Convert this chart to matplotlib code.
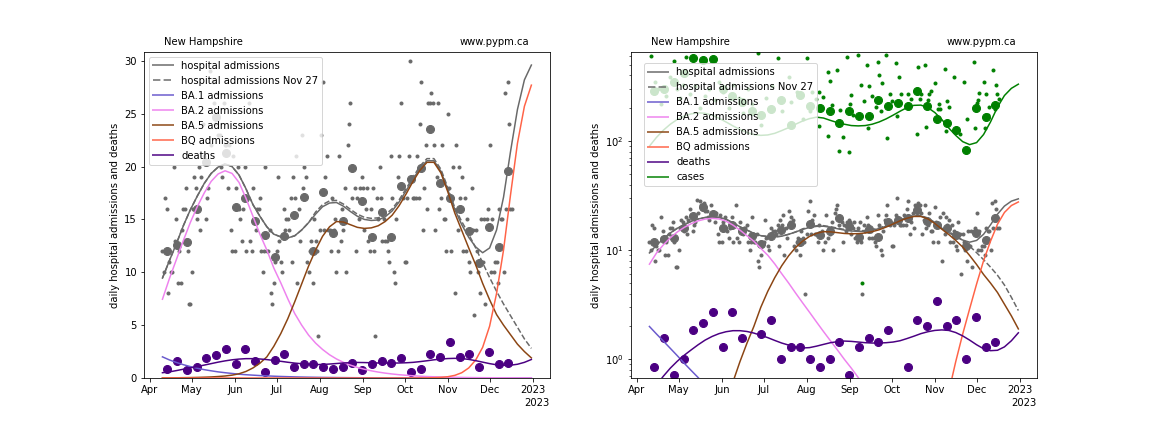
import numpy as np
import matplotlib
matplotlib.use('Agg')
import matplotlib.pyplot as plt
import matplotlib.dates as mdates
from matplotlib.lines import Line2D

region = 'New Hampshire'
site = 'www.pypm.ca'
start_date = np.datetime64('2022-04-10T00:00')

# daily hospital admissions, starting Apr 10 2022
hosp_daily = [
    12, 10, 17, 16, 8, 11, 10,
    10, 20, 13, 15, 9, 12, 9,
    14, 16, 16, 18, 12, 7, 7,
    10, 16, 19, 18, 15, 20, 14,
    19, 24, 21, 15, 17, 18, 29,
    22, 28, 26, 24, 27, 23, 23,
    20, 19, 26, 22, 22, 18, 22,
    14, 12, 21, 12, 18, 20, 16,
    15, 13, 16, 20, 12, 17, 26,
    13, 12, 18, 15, 14, 16, 16,
    17, 12, 10, 12, 20, 12, 12,
    14, 8, 7, 9, 11, 12, 19,
    13, 11, 10, 16, 14, 15, 15,
    14, 17, 11, 19, 17, 21, 9,
    16, 13, 23, 18, 20, 19, 11,
    10, 12, 13, 9, 15, 13, 12,
    4, 14, 23, 28, 14, 19, 21,
    14, 14, 12, 17, 14, 15, 10,
    12, 21, 13, 16, 14, 18, 10,
    22, 24, 26, 17, 20, 18, 12,
    17, 15, 18, 19, 18, 14, 16,
    18, 13, 12, 16, 18, 12, 4,
    17, 15, 20, 17, 13, 15, 13,
    13, 12, 11, 21, 17, 10, 9,
    15, 19, 21, 26, 18, 17, 11,
    11, 17, 21, 30, 19, 17, 17,
    17, 21, 17, 24, 28, 14, 18,
    22, 16, 26, 26, 27, 26, 22,
    14, 19, 26, 16, 17, 22, 15,
    15, 12, 25, 18, 12, 17, 20,
    8, 22, 14, 20, 17, 19, 12,
    17, 12, 15, 11, 10, 18, 14,
    6, 14, 12, 10, 8, 15, 11,
    15, 7, 15, 16, 22, 10, 15,
    10, 11, 11, 9, 16, 15, 15,
    10, 27, 16, 28, 24, 16, 16,
]

# weekly averages (plotted mid-week, first week centred Apr 13.5)
hosp_weekly = [12.0, 12.57, 12.86, 16.0, 20.43, 24.71, 21.29, 16.14, 17.0, 14.86,
               13.57, 11.43, 13.43, 15.43, 17.14, 12.0, 17.57, 13.71, 14.86, 19.86,
               16.71, 13.29, 15.71, 13.29, 18.14, 18.86, 19.86, 23.57, 18.43, 17.0,
               16.0, 13.86, 10.86, 14.29, 12.43, 19.57]
deaths_weekly = [0.857, 1.571, 0.714, 1.0, 1.857, 2.143, 2.714, 1.286, 2.714, 1.571,
                 0.571, 1.714, 2.286, 1.0, 1.286, 1.286, 1.0, 0.857, 1.0, 1.429,
                 0.714, 1.286, 1.571, 1.429, 1.857, 0.571, 0.857, 2.286, 2.0, 3.429,
                 2.0, 2.286, 1.0, 2.429, 1.286, 1.429]
cases_weekly = [288, 300, 350, 420, 573, 550, 565, 300, 260, 230,
                190, 175, 199, 238, 140, 264, 211, 201, 191, 148,
                191, 171, 171, 239, 208, 226, 208, 289, 208, 160,
                148, 127, 83, 201, 165, 215]

# daily cases that fall inside the plotted range (day offset from Apr 10)
cases_daily_days = [1, 4, 6, 8, 12, 15, 18, 20, 22, 24, 26, 29, 33, 36, 40, 43, 47, 50,
                    53, 57, 60, 64, 67, 71, 74, 78, 80, 84, 88, 92, 95, 100, 102, 106,
                    110, 113, 115, 117, 120,
                    122, 125, 128, 130, 135, 131, 122, 128, 136, 139, 143, 137, 144, 145,
                    146, 142, 150, 152, 154, 156, 158, 157, 160, 164, 165, 167, 163, 166,
                    170, 171, 173, 174, 177, 179, 181, 178, 186, 188, 192, 193, 194, 195,
                    198, 199, 201, 202, 200, 205, 207, 208, 209, 212, 213, 214, 215, 219,
                    223, 226, 228, 233, 234, 235, 236, 237, 240, 241, 242, 243, 244, 247,
                    249, 250, 251, 248, 153]
cases_daily_vals = [607, 350, 300, 220, 260, 390, 542, 300, 250, 330, 594, 270, 320, 200,
                    260, 300, 240, 350, 280, 200, 330, 250, 180, 300, 220, 646, 140, 250,
                    320, 580, 190, 389, 229, 280, 160, 580, 188, 283, 246,
                    283, 255, 432, 355, 448, 214, 138, 111, 81, 109, 80, 192, 221, 264,
                    173, 593, 614, 326, 232, 497, 319, 131, 258, 533, 403, 340, 206, 188,
                    614, 106, 270, 232, 519, 389, 270, 169, 268, 246, 116, 480, 243, 268,
                    497, 135, 273, 287, 238, 340, 199, 221, 199, 457, 123, 232, 206, 389,
                    117, 345, 159, 533, 132, 226, 238, 279, 345, 131, 268, 173, 206, 448,
                    326, 273, 246, 199, 5]

# model curves sampled every 5 days (day offset from Apr 10)
curve_days = [0, 5, 10, 15, 20, 25, 30, 35, 40, 45, 50, 55, 60, 65, 70, 75, 80, 85,
              90, 95, 100, 105, 110, 115, 120, 125, 130, 135, 140, 145, 150, 155, 160,
              165, 170, 175, 180, 185, 190, 195, 200, 205, 210, 215, 220, 225, 230, 235,
              240, 245, 250, 255, 260, 265]
hosp_model = [9.45, 11.1, 12.7, 14.4, 15.9, 17.2, 18.4, 19.35, 19.95, 20.25, 20.0, 19.2,
              17.9, 16.4, 15.3, 14.3, 13.6, 13.35, 13.25, 13.45, 14.0, 14.7, 15.5, 16.2,
              16.55, 16.6, 16.25, 15.75, 15.3, 15.0, 14.9, 14.95, 15.25, 15.8, 16.65,
              17.7, 18.8, 19.85, 20.55, 20.55, 19.55, 17.8, 15.95, 14.5, 13.3, 12.4,
              11.85, 12.3, 14.0, 17.1, 21.4, 25.4, 28.2, 29.6]
hosp_model_nov27 = [9.45, 11.1, 12.7, 14.4, 15.9, 17.2, 18.4, 19.35, 19.95, 20.25, 20.0,
                    19.2, 17.9, 16.4, 15.3, 14.3, 13.6, 13.35, 13.25, 13.45, 14.0, 14.7,
                    15.7, 16.4, 16.75, 16.8, 16.45, 15.95, 15.5, 15.2, 15.1, 15.15, 15.45,
                    16.0, 16.85, 17.9, 19.0, 20.05, 20.75, 20.75, 19.75, 18.0, 16.1, 14.8,
                    13.6, 12.3, 10.9, 9.5, 8.2, 7.0, 5.9, 4.8, 3.7, 2.8]
ba1_model = [2.0, 1.71, 1.47, 1.26, 1.08, 0.92, 0.79, 0.68, 0.58, 0.5, 0.43, 0.36, 0.31,
             0.27, 0.23, 0.2, 0.17, 0.145, 0.125, 0.105, 0.09, 0.077, 0.066, 0.057, 0.049,
             0.042, 0.036, 0.03, 0.026, 0.022, 0.019, 0.016, 0.014, 0.012, 0.0103, 0.0088,
             0.0075, 0.0064, 0.0055, 0.0047, 0.004, 0.0034, 0.0029, 0.0025, 0.0022, 0.0018,
             0.0016, 0.0014, 0.0012, 0.001, 0.0009, 0.0007, 0.0006, 0.0005]
ba2_model = [7.45, 9.4, 11.2, 13.0, 14.7, 16.2, 17.5, 18.6, 19.3, 19.6, 19.35, 18.5, 17.0,
             15.3, 13.6, 12.1, 10.4, 9.0, 7.5, 6.1, 5.0, 4.05, 3.3, 2.7, 2.2, 1.8, 1.48,
             1.22, 1.0, 0.83, 0.68, 0.56, 0.46, 0.38, 0.31, 0.26, 0.21, 0.17, 0.14, 0.115,
             0.095, 0.078, 0.064, 0.053, 0.044, 0.036, 0.03, 0.025, 0.02, 0.017, 0.014,
             0.011, 0.0093, 0.0077]
ba5_model = [0.01, 0.015, 0.02, 0.03, 0.04, 0.055, 0.075, 0.1, 0.14, 0.19, 0.27, 0.4, 0.62,
             0.95, 1.4, 2.0, 3.0, 4.2, 5.6, 7.2, 8.9, 10.6, 12.1, 13.4, 14.3, 14.8, 14.75,
             14.5, 14.25, 14.15, 14.2, 14.4, 14.8, 15.4, 16.3, 17.4, 18.6, 19.65, 20.4,
             20.4, 19.4, 17.6, 15.6, 13.95, 12.3, 10.7, 8.95, 7.4, 6.0, 5.0, 4.1, 3.2, 2.5,
             1.9]
bq_model = [1e-5, 1e-5, 1e-5, 1e-5, 1e-5, 1e-5, 1e-5, 1e-5, 1e-5, 1e-5, 1e-5, 1e-5, 1e-5,
            1e-5, 1e-5, 1e-5, 1e-5, 1e-5, 1e-5, 1e-5, 1e-5, 1e-5, 1e-5, 1e-5, 1e-5, 1e-5,
            1e-5, 1e-5, 1e-5, 1e-5, 1e-5, 1e-5, 0.0004, 0.0007, 0.0012, 0.002, 0.0035,
            0.006, 0.012, 0.028, 0.06, 0.12, 0.25, 0.5, 0.95, 1.7, 2.9, 4.9, 8.0, 12.1,
            17.3, 22.2, 25.7, 27.7]
deaths_model = [0.5, 0.58, 0.7, 0.83, 0.96, 1.09, 1.22, 1.36, 1.5, 1.62, 1.72, 1.79, 1.83,
                1.83, 1.8, 1.74, 1.66, 1.58, 1.49, 1.41, 1.35, 1.3, 1.27, 1.28, 1.32, 1.37,
                1.42, 1.45, 1.47, 1.46, 1.44, 1.42, 1.41, 1.41, 1.42, 1.44, 1.48, 1.55,
                1.63, 1.72, 1.79, 1.84, 1.86, 1.84, 1.76, 1.64, 1.5, 1.36, 1.25, 1.2, 1.21,
                1.3, 1.48, 1.75]
cases_model = [90, 108, 126, 143, 158, 170, 178, 182, 180, 173, 162, 150, 138, 128, 120,
               115, 113, 114, 118, 125, 133, 143, 153, 161, 166, 163, 155, 148, 143, 139,
               138, 139, 143, 150, 160, 173, 188, 203, 213, 214, 203, 183, 158, 132, 113,
               99, 93, 97, 115, 150, 205, 262, 305, 333]

week_first_day = 3.5

c_hosp = 'dimgrey'
c_ba1 = 'slateblue'
c_ba2 = 'violet'
c_ba5 = 'saddlebrown'
c_bq = 'tomato'
c_death = 'indigo'
c_case = 'green'


class YearOffsetFormatter(mdates.ConciseDateFormatter):
    def format_ticks(self, values):
        labels = super().format_ticks(values)
        if len(values):
            self.offset_string = mdates.num2date(values[-1]).strftime('%Y')
        return labels


def to_dates(days):
    hours = np.round(np.asarray(days, dtype=float) * 24).astype(int)
    return start_date + hours * np.timedelta64(1, 'h')


daily_dates = to_dates(np.arange(len(hosp_daily)))
week_dates = to_dates(week_first_day + 7 * np.arange(len(hosp_weekly)))
curve_dates = to_dates(curve_days)
case_dates = to_dates(cases_daily_days)

fig, axes = plt.subplots(1, 2, figsize=(16, 6), dpi=72)
fig.subplots_adjust(bottom=0.125, top=0.88)

for i, ax in enumerate(axes):
    log = (i == 1)
    ax.plot(daily_dates, hosp_daily, 'o', color=c_hosp, ms=3, ls='none')
    ax.plot(week_dates, hosp_weekly, 'o', color=c_hosp, ms=8, ls='none')
    ax.plot(week_dates, deaths_weekly, 'o', color=c_death, ms=8, ls='none')
    if log:
        ax.plot(case_dates, cases_daily_vals, 'o', color=c_case, ms=3, ls='none')
        ax.plot(week_dates, cases_weekly, 'o', color=c_case, ms=8, ls='none')
    ax.plot(curve_dates, hosp_model, color=c_hosp, lw=1.5)
    ax.plot(curve_dates, hosp_model_nov27, color=c_hosp, lw=1.5, ls='--')
    ax.plot(curve_dates, ba1_model, color=c_ba1, lw=1.5)
    ax.plot(curve_dates, ba2_model, color=c_ba2, lw=1.5)
    ax.plot(curve_dates, ba5_model, color=c_ba5, lw=1.5)
    ax.plot(curve_dates, bq_model, color=c_bq, lw=1.5)
    ax.plot(curve_dates, deaths_model, color=c_death, lw=1.5)
    if log:
        ax.plot(curve_dates, cases_model, color=c_case, lw=1.5)

    handles = [Line2D([], [], color=c_hosp, lw=2, alpha=0.75),
               Line2D([], [], color=c_hosp, lw=2, alpha=0.75, ls='--'),
               Line2D([], [], color=c_ba1, lw=2, alpha=0.75),
               Line2D([], [], color=c_ba2, lw=2, alpha=0.75),
               Line2D([], [], color=c_ba5, lw=2, alpha=0.75),
               Line2D([], [], color=c_bq, lw=2, alpha=0.75),
               Line2D([], [], color=c_death, lw=2, alpha=0.75)]
    labels = ['hospital admissions', 'hospital admissions Nov 27', 'BA.1 admissions',
              'BA.2 admissions', 'BA.5 admissions', 'BQ admissions', 'deaths']
    if log:
        handles.append(Line2D([], [], color=c_case, lw=2, alpha=0.75))
        labels.append('cases')
        ax.set_yscale('log')
        ax.set_ylim(0.674, 659)
        ax.legend(handles, labels, loc='upper left', bbox_to_anchor=(0.02, 0.98))
    else:
        ax.set_ylim(0, 30.85)
        ax.legend(handles, labels, loc='upper left')

    loc = mdates.AutoDateLocator()
    ax.xaxis.set_major_locator(loc)
    ax.xaxis.set_major_formatter(YearOffsetFormatter(loc))
    ax.set_ylabel('daily hospital admissions and deaths')
    ax.text(0.05, 1.02, region, transform=ax.transAxes)
    ax.text(0.95, 1.02, site, transform=ax.transAxes, ha='right')

fig.savefig('out.png')
